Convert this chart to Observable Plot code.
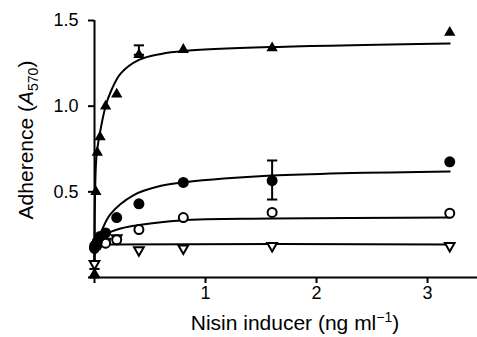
<!DOCTYPE html>
<html>
<head>
<meta charset="utf-8">
<script src="https://cdn.jsdelivr.net/npm/d3@7"></script>
<script src="https://cdn.jsdelivr.net/npm/@observablehq/plot@0.6"></script>
<style>
  html, body { margin: 0; padding: 0; background: #fff; }
  #chart svg { display: block; }
</style>
</head>
<body>
<div id="chart"></div>
<script>
// Nisin concentrations (ng/ml)
const conc = [0, 0.0125, 0.025, 0.05, 0.1, 0.2, 0.4, 0.8, 1.6, 3.2];
// Series values (A570)
const triFilled  = [0.02, 0.50, 0.73, 0.82, 1.00, 1.07, 1.30, 1.33, 1.34, 1.43];
const circFilled = [0.18, 0.19, 0.21, 0.24, 0.26, 0.35, 0.43, 0.555, 0.565, 0.675];
const circOpen   = [0.17, 0.19, 0.20, 0.21, 0.20, 0.22, 0.28, 0.35, 0.38, 0.375];
const triOpen    = [0.08, 0.18, 0.19, 0.20, 0.21, 0.23, 0.16, 0.17, 0.185, 0.185];

// Fitted curves
const fitTriX  = [0, 0.004, 0.018, 0.045, 0.1, 0.15, 0.235, 0.4, 0.6, 0.8, 1.6, 3.2];
const fitTriY  = [0.10, 0.45, 0.71, 0.83, 1.0, 1.09, 1.19, 1.27, 1.305, 1.322, 1.345, 1.366];
const fitCfX   = [0, 0.02, 0.054, 0.144, 0.35, 0.6, 0.8, 1.6, 3.2];
const fitCfY   = [0.18, 0.20, 0.257, 0.37, 0.48, 0.535, 0.555, 0.595, 0.619];
const fitCoX   = [0, 0.02, 0.054, 0.1, 0.235, 0.776, 1.6, 3.2];
const fitCoY   = [0.17, 0.19, 0.216, 0.25, 0.286, 0.333, 0.344, 0.35];
const fitToX   = [0, 0.02, 0.1, 3.2];
const fitToY   = [0.08, 0.19, 0.193, 0.193];

// Error bars
const errX  = [0, 0.4, 1.6];
const errLo = [0.0, 1.30, 0.455];
const errHi = [0.05, 1.355, 0.683];

// Axis ticks
const xTicks = [0, 1, 2, 3];
const yTicks = [0, 0.5, 1.0, 1.5];

const pts = (xs, ys) => xs.map((x, i) => ({x, y: ys[i]}));
const err = errX.map((x, i) => ({x, lo: errLo[i], hi: errHi[i]}));
const caps = err.flatMap(d => [{x: d.x, y: d.lo}, {x: d.x, y: d.hi}]);

const capSymbol = {
  draw(ctx, size) {
    const w = Math.sqrt(size);
    ctx.moveTo(-w, 0);
    ctx.lineTo(w, 0);
  }
};

const curveOpts = {x: "x", y: "y", stroke: "#000", strokeWidth: 2, curve: "catmull-rom"};

const chart = Plot.plot({
  width: 477,
  height: 337,
  marginLeft: 94,
  marginRight: 0,
  marginTop: 20,
  marginBottom: 60,
  style: {fontFamily: "'Liberation Sans', Arial, sans-serif", background: "#fff", color: "#000"},
  x: {domain: [0, 3.45]},
  y: {domain: [0, 1.5]},
  marks: [
    Plot.axisY({ticks: yTicks, tickFormat: d => d === 0 ? "" : d3.format(".1f")(d), tickSize: 6, tickPadding: 10, strokeWidth: 2, fontSize: 18, label: null}),
    Plot.axisX({ticks: xTicks, tickFormat: d => d === 0 ? "" : String(d), tickSize: 6, tickPadding: 3, strokeWidth: 2, fontSize: 18, label: null}),
    Plot.ruleX([0], {stroke: "#000", strokeWidth: 2}),
    Plot.ruleY([0], {stroke: "#000", strokeWidth: 2}),
    Plot.line(pts(fitTriX, fitTriY), curveOpts),
    Plot.line(pts(fitCfX, fitCfY), curveOpts),
    Plot.line(pts(fitCoX, fitCoY), curveOpts),
    Plot.line(pts(fitToX, fitToY), curveOpts),
    Plot.ruleX(err, {x: "x", y1: "lo", y2: "hi", stroke: "#000", strokeWidth: 2}),
    Plot.dot(caps, {x: "x", y: "y", symbol: capSymbol, r: 2.9, stroke: "#000", strokeWidth: 2, fill: "none"}),
    Plot.dot(pts(conc, triOpen), {x: "x", y: "y", symbol: "triangle", rotate: 180, r: 3.6, fill: "#fff", stroke: "#000", strokeWidth: 2}),
    Plot.dot(pts(conc, circOpen), {x: "x", y: "y", r: 4.5, fill: "#fff", stroke: "#000", strokeWidth: 2}),
    Plot.dot(pts(conc, circFilled), {x: "x", y: "y", r: 5.5, fill: "#000", stroke: "none"}),
    Plot.dot(pts(conc, triFilled), {x: "x", y: "y", symbol: "triangle", r: 4.2, fill: "#000", stroke: "none"})
  ]
});

document.getElementById("chart").appendChild(chart);

const svg = d3.select(chart);
// Y axis label: Adherence (A570)
const yl = svg.append("text")
  .attr("transform", "translate(33,140) rotate(-90)")
  .attr("text-anchor", "middle")
  .attr("font-size", 21)
  .attr("fill", "#000");
yl.append("tspan").text("Adherence (");
yl.append("tspan").attr("font-style", "italic").text("A");
yl.append("tspan").attr("font-size", 14).attr("dy", 5).text("570");
yl.append("tspan").attr("dy", -5).text(")");

// X axis label: Nisin inducer (ng ml−1)
const xl = svg.append("text")
  .attr("x", 295)
  .attr("y", 330)
  .attr("text-anchor", "middle")
  .attr("font-size", 21)
  .attr("fill", "#000");
xl.append("tspan").text("Nisin inducer (ng ml");
xl.append("tspan").attr("font-size", 14).attr("dy", -8).text("\u22121");
xl.append("tspan").attr("dy", 8).text(")");
</script>
</body>
</html>
